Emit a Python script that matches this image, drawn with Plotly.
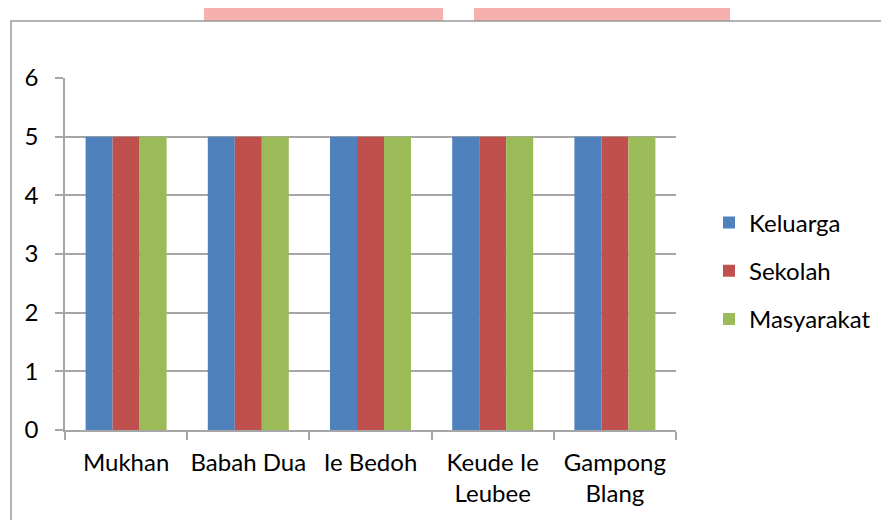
import plotly.graph_objects as go

categories = ["Mukhan", "Babah Dua", "Ie Bedoh", "Keude Ie<br>Leubee", "Gampong<br>Blang"]
keluarga = [5, 5, 5, 5, 5]
sekolah = [5, 5, 5, 5, 5]
masyarakat = [5, 5, 5, 5, 5]
y_ticks = [0, 1, 2, 3, 4, 5, 6]

series = [("Keluarga", keluarga, "#4F81BD"),
          ("Sekolah", sekolah, "#C0504D"),
          ("Masyarakat", masyarakat, "#9BBB59")]

FONT = "Lato"
GRID = "#A6A6A6"

fig = go.Figure()
for name, vals, col in series:
    fig.add_trace(go.Bar(x=categories, y=vals, name=name, marker_color=col,
                         marker_line_width=0, legendgroup=name))

fig.update_layout(
    width=889, height=520,
    margin=dict(l=57, r=221, t=70, b=98, autoexpand=False),
    paper_bgcolor="white", plot_bgcolor="white",
    font=dict(family=FONT, size=24, color="black"),
    barmode="group", bargap=0.337, bargroupgap=0,
    showlegend=True,
    legend=dict(x=1.054, xanchor="left", y=0.452, yanchor="middle",
                font=dict(family=FONT, size=24), tracegroupgap=14,
                bgcolor="rgba(0,0,0,0)"),
    xaxis=dict(showline=True, linecolor=GRID, linewidth=1.5,
               ticks="outside", tickson="boundaries", ticklen=8,
               tickcolor=GRID, tickwidth=1.5, showgrid=False,
               ticklabelstandoff=10, tickangle=0, automargin=False,
               tickfont=dict(family=FONT, size=24)),
    yaxis=dict(range=[0, 6], tickvals=y_ticks, showgrid=True, gridcolor=GRID,
               gridwidth=1.5, showline=True, linecolor=GRID, linewidth=1.5,
               ticks="outside", ticklen=8, tickcolor=GRID, tickwidth=1.5,
               zeroline=False, ticklabelstandoff=12, automargin=False,
               tickfont=dict(family=FONT, size=24)),
    shapes=[
        dict(type="rect", xref="paper", yref="paper",
             x0=(204 - 65) / 611, x1=(443 - 65) / 611,
             y0=(430 - 21) / 352, y1=(430 + 10) / 352,
             fillcolor="#F6B0AE", line=dict(width=0), layer="below"),
        dict(type="rect", xref="paper", yref="paper",
             x0=(474 - 65) / 611, x1=(730 - 65) / 611,
             y0=(430 - 21) / 352, y1=(430 + 10) / 352,
             fillcolor="#F6B0AE", line=dict(width=0), layer="below"),
        dict(type="rect", xref="paper", yref="paper",
             x0=(11 - 65) / 611, x1=(900 - 65) / 611,
             y0=(430 - 530) / 352, y1=(430 - 21) / 352,
             fillcolor="white", line=dict(color="#999999", width=1.5),
             layer="below"),
    ],
)

fig.write_html("out.html")
